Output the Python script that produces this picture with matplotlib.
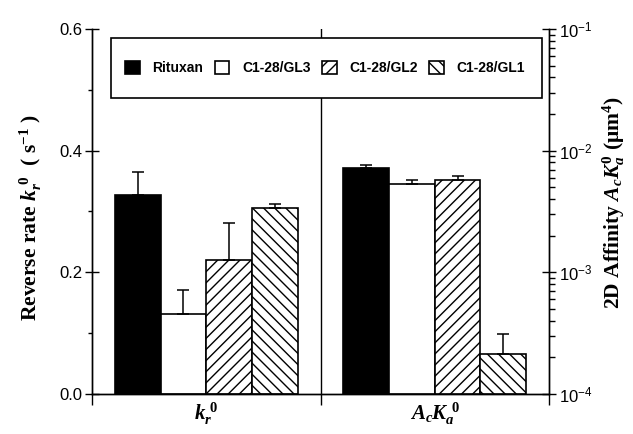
import matplotlib
matplotlib.use("Agg")
import matplotlib.pyplot as plt
from matplotlib.patches import Rectangle
from matplotlib.ticker import MultipleLocator, LogLocator, NullFormatter

# data
groups = ["Rituxan", "C1-28/GL3", "C1-28/GL2", "C1-28/GL1"]
kr_values = [0.327, 0.131, 0.220, 0.305]
kr_err = [0.038, 0.040, 0.061, 0.007]
affinity_values = [7.2e-3, 5.3e-3, 5.7e-3, 2.15e-4]
affinity_err = [0.37e-3, 0.45e-3, 0.55e-3, 0.96e-4]
category_labels = [r"$k_r^{\ 0}$", r"$A_cK_a^{\ 0}$"]

faces = ["black", "white", "white", "white"]
hatches = [None, None, "///", "\\\\\\"]

plt.rcParams["font.family"] = "Liberation Sans"
plt.rcParams["mathtext.fontset"] = "custom"
plt.rcParams["mathtext.rm"] = "Liberation Serif:bold"
plt.rcParams["mathtext.it"] = "Liberation Serif:bold:italic"
plt.rcParams["mathtext.bf"] = "Liberation Serif:bold"
plt.rcParams["hatch.linewidth"] = 1.0

fig = plt.figure(figsize=(6.33, 4.34), dpi=100)
ax = fig.add_axes([92 / 633, 1 - 394 / 434, 457 / 633, 365 / 434])
ax2 = ax.twinx()

width = 0.2
for i, name in enumerate(groups):
    x = 0.5 + (i - 1.5) * width
    ax.bar(x, kr_values[i], width, color=faces[i], edgecolor="black",
           linewidth=1.2, hatch=hatches[i], label=name)
    ax.errorbar(x, kr_values[i], yerr=[[0], [kr_err[i]]], fmt="none",
                ecolor="black", elinewidth=1.1, capsize=4, capthick=1.1)
    x2 = 1.5 + (i - 1.5) * width
    ax2.bar(x2, affinity_values[i] - 1e-4, width, bottom=1e-4, color=faces[i],
            edgecolor="black", linewidth=1.2, hatch=hatches[i], label=name)
    ax2.errorbar(x2, affinity_values[i], yerr=[[0], [affinity_err[i]]], fmt="none",
                 ecolor="black", elinewidth=1.1, capsize=4, capthick=1.1)

ax.axvline(1, color="black", linewidth=1.0, zorder=0.5)

ax.set_xlim(0, 2)
ax.set_ylim(0, 0.6)
ax2.set_yscale("log")
ax2.set_ylim(1e-4, 1e-1)

ax.yaxis.set_major_locator(MultipleLocator(0.2))
ax.yaxis.set_minor_locator(MultipleLocator(0.1))
ax.yaxis.set_major_formatter(plt.FuncFormatter(lambda v, p: f"{v:.1f}"))
ax.tick_params(axis="y", which="major", direction="inout", length=10, width=1,
               labelsize=12, pad=2)
ax.tick_params(axis="y", which="minor", direction="out", length=3, width=1)

ax2.yaxis.set_major_locator(LogLocator(base=10, numticks=10))
ax2.yaxis.set_minor_locator(LogLocator(base=10, subs=range(2, 10), numticks=10))
ax2.yaxis.set_minor_formatter(NullFormatter())
ax2.tick_params(axis="y", which="major", direction="inout", length=10, width=1,
                labelsize=12, pad=2)
ax2.tick_params(axis="y", which="minor", direction="out", length=4, width=1)

ax.set_xticks([0, 1, 2])
ax.set_xticklabels([])
ax.set_xticks([0.5, 1.5], minor=True)
ax.set_xticklabels(category_labels, minor=True, fontsize=15)
ax.tick_params(axis="x", which="major", direction="out", length=8, width=1)
ax.tick_params(axis="x", which="minor", length=0, pad=5)

for a in (ax, ax2):
    a.spines["top"].set_visible(False)
    for s in ("left", "right", "bottom"):
        a.spines[s].set_linewidth(1.0)

# legend box
ax2.add_patch(Rectangle((19 / 457, (394 - 98) / 365), 431 / 457, 60 / 365,
                        transform=ax2.transAxes, facecolor="white",
                        edgecolor="black", linewidth=1.2, zorder=5))
handles, labels = ax2.get_legend_handles_labels()
leg = ax2.legend(handles, labels, loc="center", ncol=4, frameon=False,
                 bbox_to_anchor=(0.51, 0.893), prop={"weight": "bold", "size": 10},
                 handlelength=1.05, handleheight=1.1, handletextpad=0.9,
                 columnspacing=0.85)
leg.set_zorder(6)

fig.text(31 / 633, 1 - 218 / 434, r"Reverse rate $k_r^{\ 0}$  ( s$^{-1}$ )",
         rotation=90, ha="center", va="center", fontsize=15.5,
         family="Liberation Serif", weight="bold")
fig.text(614 / 633, 1 - 202 / 434, r"2D Affinity $A_cK_a^0$ (μm$^4$)",
         rotation=90, ha="center", va="center", fontsize=15.5,
         family="Liberation Serif", weight="bold")

fig.savefig("out.png", dpi=100)
